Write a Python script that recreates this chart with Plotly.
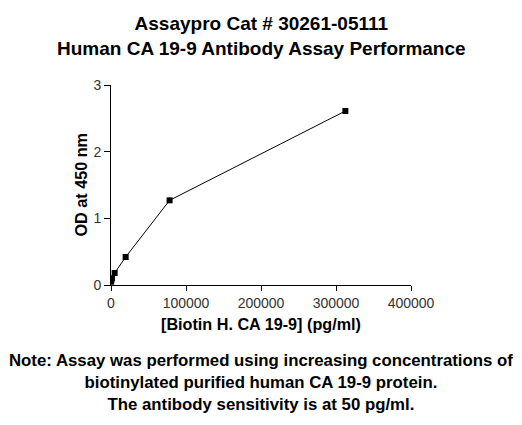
import plotly.graph_objects as go

conc = [76, 305, 1221, 4883, 19531, 78125, 312500]
od = [0.05, 0.07, 0.10, 0.18, 0.42, 1.27, 2.61]
x_ticks = [0, 100000, 200000, 300000, 400000]
y_ticks = [0, 1, 2, 3]

FONT = "Liberation Sans, Arial, sans-serif"

# page body has an 8px margin; compensate so plot area lands at x 111-411, y 85-285
OFF = 8
L, T, PW, PH = 111 - OFF, 85 - OFF, 300, 200
W, H = 522 - OFF, 425 - OFF

fig = go.Figure()
fig.add_trace(go.Scatter(
    x=conc, y=od, mode="lines+markers",
    line=dict(color="black", width=1),
    marker=dict(symbol="square", size=6, color="black"),
    showlegend=False,
))

fig.update_layout(
    width=W, height=H,
    margin=dict(l=L, r=W - L - PW, t=T, b=H - T - PH, autoexpand=False),
    paper_bgcolor="white", plot_bgcolor="white",
    font=dict(family=FONT, color="black"),
    xaxis=dict(
        range=[0, 400000], tickvals=x_ticks, ticktext=[str(v) for v in x_ticks],
        showgrid=False, zeroline=False, showline=True, linecolor="black", linewidth=1,
        ticks="outside", ticklen=5, tickcolor="black",
        tickfont=dict(size=14, color="#333333", family=FONT),
    ),
    yaxis=dict(
        range=[0, 3], tickvals=y_ticks,
        showgrid=False, zeroline=False, showline=True, linecolor="black", linewidth=1,
        ticks="outside", ticklen=6, tickcolor="black",
        tickfont=dict(size=14, color="#333333", family=FONT),
    ),
    annotations=[
        dict(text="<b>Assaypro Cat # 30261-05111<br>Human CA 19-9 Antibody Assay Performance</b>",
             x=0.5, y=1, xref="paper", yref="paper", yanchor="middle", showarrow=False,
             yshift=85 - 35.5, font=dict(size=19, family=FONT)),
        dict(text="<b>[Biotin H. CA 19-9] (pg/ml)</b>",
             x=0.5, y=0, xref="paper", yref="paper", yanchor="middle", showarrow=False,
             yshift=-(324 - 285), font=dict(size=16.2, family=FONT)),
        dict(text="<b>OD at 450 nm</b>", textangle=-90,
             x=0, y=0.5, xref="paper", yref="paper", xanchor="center", yanchor="middle",
             showarrow=False, xshift=-(111 - 80.5), font=dict(size=16.2, family=FONT)),
        dict(text="<b>Note: Assay was performed using increasing concentrations of<br>"
                  "biotinylated purified human CA 19-9 protein.<br>"
                  "The antibody sensitivity is at 50 pg/ml.</b>",
             x=0.5, y=0, xref="paper", yref="paper", yanchor="middle", showarrow=False,
             yshift=-(382.5 - 285), font=dict(size=16.8, family=FONT)),
    ],
)

fig.write_html("out.html")
